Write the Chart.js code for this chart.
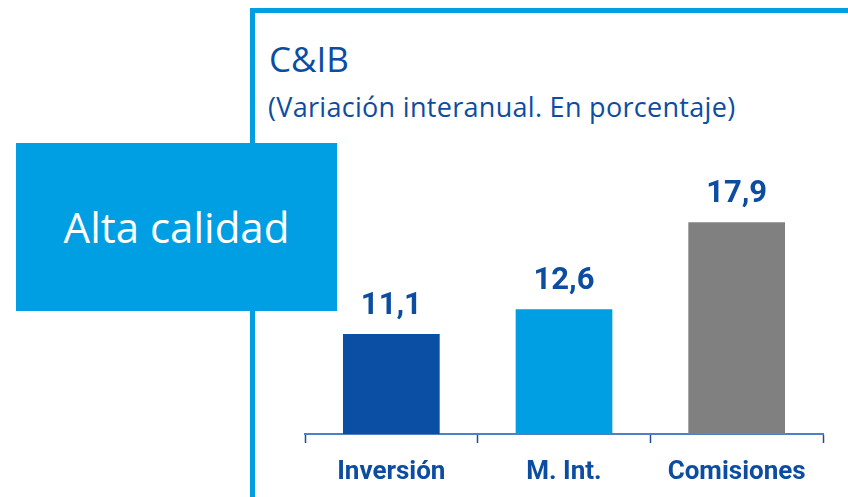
<!DOCTYPE html>
<html lang="es">
<head>
<meta charset="utf-8">
<title>C&amp;IB</title>
<script src="https://cdn.jsdelivr.net/npm/chart.js@4/dist/chart.umd.min.js"></script>
<style>
  html, body {
    margin: 0;
    padding: 0;
    background: #ffffff;
  }
  .page {
    position: relative;
    width: 848px;
    height: 497px;
    overflow: hidden;
    font-family: "Open Sans", sans-serif;
  }
  .frame {
    position: absolute;
    left: 250px;
    top: 8px;
    width: 620px;
    height: 520px;
    border-top: 5px solid #009fe3;
    border-left: 5px solid #009fe3;
  }
  .title {
    position: absolute;
    left: 269px;
    top: 41px;
    font-size: 35px;
    line-height: 35px;
    color: #0c4da2;
    white-space: nowrap;
  }
  .subtitle {
    position: absolute;
    left: 268px;
    top: 93px;
    font-size: 27px;
    line-height: 27px;
    letter-spacing: 0.3px;
    color: #0c4da2;
    white-space: nowrap;
  }
  #chartWrap {
    position: absolute;
    left: 0;
    top: 0;
    width: 848px;
    height: 497px;
  }
  .badge {
    position: absolute;
    left: 16px;
    top: 143px;
    width: 321px;
    height: 168px;
    background: #009fe3;
    color: #ffffff;
    font-size: 42px;
    line-height: 42px;
    display: flex;
    align-items: center;
    justify-content: center;
    white-space: nowrap;
  }
</style>
</head>
<body>
<div class="page">
  <div class="frame"></div>
  <div class="title">C&amp;IB</div>
  <div class="subtitle">(Variación interanual. En porcentaje)</div>
  <div id="chartWrap"><canvas id="growthChart" width="848" height="497"></canvas></div>
  <div class="badge">Alta calidad</div>
</div>

<script>
const categories = ["Inversión", "M. Int.", "Comisiones"];
const growth = [11.1, 12.6, 17.9];
const barColors = ["#0a4fa3", "#009fe3", "#808080"];

const textBlue = "#0c4da2";

function formatValue(v) {
  return v.toFixed(1).replace(".", ",");
}

// value above each bar
const valueLabels = {
  id: "valueLabels",
  afterDatasetsDraw(chart) {
    const ctx = chart.ctx;
    const meta = chart.getDatasetMeta(0);
    ctx.save();
    ctx.font = "bold 31px Roboto";
    ctx.fillStyle = textBlue;
    ctx.textAlign = "center";
    ctx.textBaseline = "alphabetic";
    meta.data.forEach((bar, i) => {
      ctx.fillText(formatValue(growth[i]), bar.x, bar.y - 20);
    });
    ctx.restore();
  }
};

const ctx = document.getElementById("growthChart").getContext("2d");

new Chart(ctx, {
  type: "bar",
  data: {
    labels: categories,
    datasets: [
      {
        data: growth,
        backgroundColor: barColors,
        borderWidth: 0,
        barPercentage: 0.56,
        categoryPercentage: 1
      }
    ]
  },
  options: {
    responsive: false,
    animation: false,
    layout: {
      padding: { left: 305, right: 25, top: 160, bottom: 0 }
    },
    plugins: {
      legend: { display: false },
      tooltip: { enabled: false }
    },
    scales: {
      x: {
        offset: true,
        afterFit(scale) {
          scale.height = 63;
        },
        grid: {
          display: true,
          offset: true,
          drawOnChartArea: false,
          drawTicks: true,
          tickLength: 9,
          tickWidth: 1.5,
          tickColor: "#1d4e91"
        },
        border: {
          display: true,
          color: "#4f80c4",
          width: 2
        },
        ticks: {
          color: textBlue,
          padding: 14,
          font: { family: "Roboto", size: 26, weight: "bold" }
        }
      },
      y: {
        display: false,
        min: 5,
        max: 21.7
      }
    }
  },
  plugins: [valueLabels]
});
</script>
</body>
</html>
